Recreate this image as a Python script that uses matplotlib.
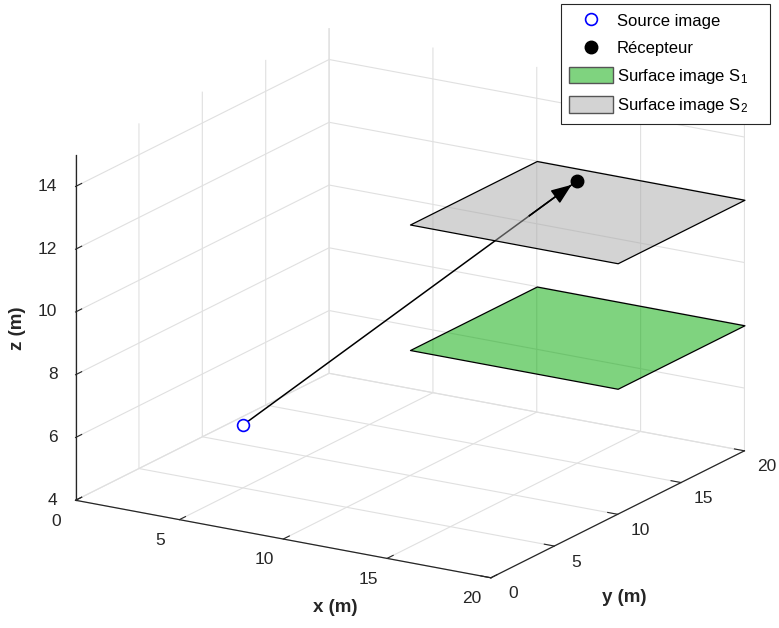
import numpy as np
import matplotlib
matplotlib.use("Agg")
import matplotlib.pyplot as plt
from matplotlib.patches import FancyArrowPatch, Patch
from matplotlib.lines import Line2D
from mpl_toolkits.mplot3d import proj3d
from mpl_toolkits.mplot3d.art3d import Poly3DCollection

plt.rcParams['font.family'] = ['Liberation Sans', 'DejaVu Sans']
plt.rcParams['mathtext.fontset'] = 'custom'
plt.rcParams['mathtext.rm'] = 'Liberation Sans'
plt.rcParams['mathtext.it'] = 'Liberation Sans:italic'

# geometry (m)
source = [5, 5, 6]
receiver = [15, 15, 13]
surf_x = [10, 20]
surf_y = [10, 20]
z_s1 = 8
z_s2 = 12

x_ticks = [0, 5, 10, 15, 20]
y_ticks = [0, 5, 10, 15, 20]
z_ticks = [4, 6, 8, 10, 12, 14]
x_lim = (0, 20)
y_lim = (0, 20)
z_lim = (4, 15)

labels = ['Source image', 'Récepteur',
          r'Surface image $\mathrm{S}_1$', r'Surface image $\mathrm{S}_2$']

green = (0.0, 0.66, 0.0, 0.5)
grey = (0.66, 0.66, 0.66, 0.5)
dark = '#262626'
tick_fs = 12.5


class Arrow3D(FancyArrowPatch):
    def __init__(self, xs, ys, zs, *args, **kwargs):
        super().__init__((0, 0), (0, 0), *args, **kwargs)
        self._verts3d = xs, ys, zs

    def do_3d_projection(self, renderer=None):
        xs3d, ys3d, zs3d = self._verts3d
        xs, ys, zs = proj3d.proj_transform(xs3d, ys3d, zs3d, self.axes.M)
        self.set_positions((xs[0], ys[0]), (xs[1], ys[1]))
        return np.min(zs)


W, H = 779, 628
fig = plt.figure(figsize=(W / 100, H / 100), dpi=100)
S0 = 500
ax = fig.add_axes([0, 0, S0 / W, S0 / H], projection='3d',
                  proj_type='ortho', computed_zorder=False)
ax.view_init(elev=17.8, azim=-58.6)
ax.set_box_aspect((1, 1, 0.745))
ax.set_xlim(*x_lim)
ax.set_ylim(*y_lim)
ax.set_zlim(*z_lim)
ax.set_xticks(x_ticks)
ax.set_yticks(y_ticks)
ax.set_zticks(z_ticks)
ax.tick_params(axis='x', labelbottom=False, colors=dark)
ax.tick_params(axis='y', labelleft=False, colors=dark)
ax.tick_params(axis='z', labelleft=False, colors=dark)
ax.zaxis.set_ticks_position('lower')

for axis in (ax.xaxis, ax.yaxis, ax.zaxis):
    axis.set_pane_color((1, 1, 1, 0))
    axis.pane.set_edgecolor('none')
    axis.line.set_color(dark)
    axis.line.set_linewidth(0.9)
    axis.label.set_visible(False)
    axis.offsetText.set_visible(False)
    axis._axinfo['grid'].update(color='#e0e0e0', linewidth=0.8)
    axis._axinfo['tick'].update(inward_factor=0.0, outward_factor=0.3)

# place the box so that the axis corners land where wanted
fig.canvas.draw()
corners = np.array([[0, 0, 4], [20, 0, 4], [20, 20, 4], [0, 20, 15]], float)
want = np.array([[77, 501], [491, 578], [746, 449], [326, 29]], float)
px, py, _ = proj3d.proj_transform(corners[:, 0], corners[:, 1], corners[:, 2], ax.get_proj())
q = ax.transData.transform(np.column_stack([px, py])) / S0
A = []
b = []
for (qx, qy), (tx, ty) in zip(q, want):
    A.append([1, 0, qx]); b.append(tx)
    A.append([0, 1, qy]); b.append(H - ty)
L, B, s = np.linalg.lstsq(np.array(A), np.array(b), rcond=None)[0]
ax.set_position([L / W, B / H, s / W, s / H])


def to2d(x, y, z):
    xs, ys, _ = proj3d.proj_transform(np.array([x], float), np.array([y], float),
                                      np.array([z], float), ax.get_proj())
    return xs[0], ys[0]


# tick labels, set a little off the axis lines
for v in x_ticks:
    ax.text2D(*to2d(v, y_lim[0] - 1.5, z_lim[0] - 0.36), str(v), transform=ax.transData,
              ha='center', va='center', fontsize=tick_fs, color=dark)
for v in y_ticks:
    ax.text2D(*to2d(x_lim[1] + 1.07, v, z_lim[0] - 0.38), str(v), transform=ax.transData,
              ha='center', va='center', fontsize=tick_fs, color=dark)
for v in z_ticks:
    ax.text2D(*to2d(x_lim[0] - 0.64, y_lim[0] - 0.38, v), str(v), transform=ax.transData,
              ha='right', va='center', fontsize=tick_fs, color=dark)

# image surfaces
sx = [surf_x[0], surf_x[1], surf_x[1], surf_x[0]]
sy = [surf_y[0], surf_y[0], surf_y[1], surf_y[1]]
s1 = Poly3DCollection([list(zip(sx, sy, [z_s1] * 4))], facecolor=green,
                      edgecolor='black', linewidth=0.9, zorder=2)
ax.add_collection3d(s1)

# path from source to receiver, split where it crosses S2
t_cross = (z_s2 - source[2]) / (receiver[2] - source[2])
cross = [source[i] + t_cross * (receiver[i] - source[i]) for i in range(3)]
ax.plot([source[0], cross[0]], [source[1], cross[1]], [source[2], cross[2]],
        color='black', lw=1.1, zorder=3)

s2 = Poly3DCollection([list(zip(sx, sy, [z_s2] * 4))], facecolor=grey,
                      edgecolor='black', linewidth=0.9, zorder=4)
ax.add_collection3d(s2)

ax.plot([cross[0], receiver[0]], [cross[1], receiver[1]], [cross[2], receiver[2]],
        color='black', lw=1.1, zorder=5)
head = Arrow3D([cross[0], receiver[0]], [cross[1], receiver[1]], [cross[2], receiver[2]],
               arrowstyle='-|>,head_length=0.9,head_width=0.35', mutation_scale=14,
               color='black', lw=1.1, shrinkA=0, shrinkB=5, zorder=6)
ax.add_artist(head)

ax.plot([source[0]], [source[1]], [source[2]], ls='none', marker='o', mfc='white',
        mec='blue', ms=8.5, mew=1.2, zorder=7)
ax.plot([receiver[0]], [receiver[1]], [receiver[2]], ls='none', marker='o',
        mfc='black', mec='black', ms=9, zorder=7)

fig.text(335 / W, 1 - 607 / H, 'x (m)', ha='center', va='center',
         fontsize=13.5, fontweight='bold', color=dark)
fig.text(624 / W, 1 - 598 / H, 'y (m)', ha='center', va='center',
         fontsize=13.5, fontweight='bold', color=dark)
fig.text(18 / W, 1 - 328 / H, 'z (m)', ha='center', va='center', rotation=90,
         fontsize=13.5, fontweight='bold', color=dark)

handles = [
    Line2D([], [], ls='none', marker='o', mfc='none', mec='blue', ms=8.5, mew=1.2),
    Line2D([], [], ls='none', marker='o', mfc='black', mec='black', ms=9),
    Patch(facecolor=green, edgecolor='#555555', linewidth=1),
    Patch(facecolor=grey, edgecolor='#555555', linewidth=1),
]
leg = fig.legend(handles, labels, loc='upper left',
                 bbox_to_anchor=(561 / W, 1 - 127 / H, 209 / W, 123 / H), mode='expand',
                 borderaxespad=0, fancybox=False, edgecolor=dark, framealpha=1,
                 fontsize=12, handlelength=2.6, handleheight=1.15, handletextpad=0.25,
                 labelspacing=0.62, borderpad=0.5)
leg.get_frame().set_linewidth(0.8)

fig.savefig('out.png', dpi=100)
